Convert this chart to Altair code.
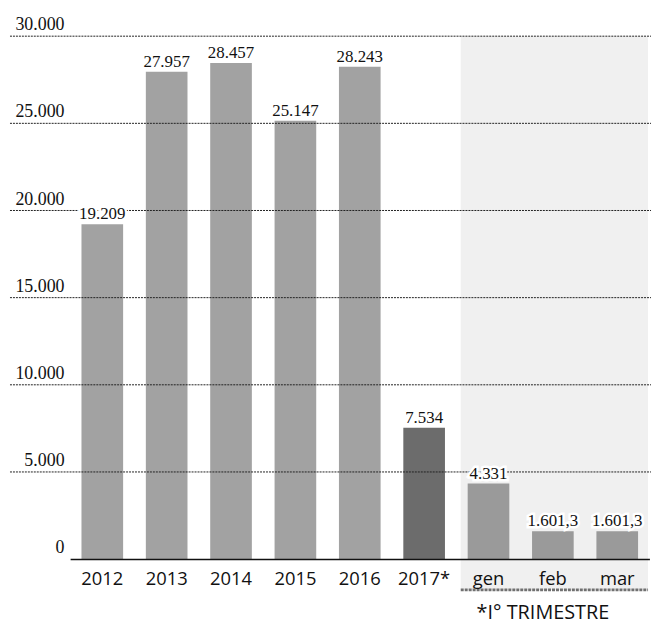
import altair as alt
import pandas as pd

categories = ["2012", "2013", "2014", "2015", "2016", "2017*", "gen", "feb", "mar"]
values = [19209, 27957, 28457, 25147, 28243, 7534, 4331, 1601.3, 1601.3]
value_labels = ["19.209", "27.957", "28.457", "25.147", "28.243", "7.534", "4.331", "1.601,3", "1.601,3"]
groups = ["anno", "anno", "anno", "anno", "anno", "parz", "mese", "mese", "mese"]
tick_values = [0, 5000, 10000, 15000, 20000, 25000, 30000]
tick_labels = ["0", "5.000", "10.000", "15.000", "20.000", "25.000", "30.000"]
quarter_months = ["gen"]
quarter_title = "*I\u00b0 TRIMESTRE"

W = 648
H = 553
SERIF = "Liberation Serif"
SANS = "Open Sans"

bars_df = pd.DataFrame({"c": categories, "v": values, "lab": value_labels, "g": groups})
ticks_df = pd.DataFrame({"t": tick_values, "lab": tick_labels})
shade_df = pd.DataFrame({"c": quarter_months, "top": [30000]})
title_df = pd.DataFrame({"c": ["feb"], "lab": [quarter_title]})

xscale = alt.Scale(domain=categories, range=[62.6, 646.4], paddingInner=0.353, paddingOuter=0.1765)
yscale = alt.Scale(domain=[0, 31480], nice=False, zero=True)
xaxis = alt.Axis(labelAngle=0, labelFont=SANS, labelFontSize=18.5, labelColor="#111",
                 labelPadding=11, ticks=False, domainColor="#111", domainWidth=1.5,
                 grid=False, title=None)


def X(**kw):
    return alt.X("c:N", scale=xscale, axis=xaxis, title=None, **kw)


shade = alt.Chart(shade_df).mark_rect(color="#f0f0f0", xOffset=-7).encode(
    x=X(bandPosition=0),
    x2=alt.value(W - 3),
    y=alt.Y("top:Q", scale=yscale, axis=None),
    y2=alt.value(H + 31),
)

underline = alt.Chart(shade_df).mark_rule(color="#707070", strokeWidth=3, strokeDash=[3, 1], xOffset=-7).encode(
    x=X(bandPosition=0),
    x2=alt.value(W - 3),
    y=alt.value(H + 31),
)

bars = alt.Chart(bars_df).mark_bar().encode(
    x=X(),
    y=alt.Y("v:Q", scale=yscale, axis=None),
    color=alt.Color("g:N", scale=alt.Scale(domain=["anno", "parz", "mese"],
                                           range=["#a2a2a2", "#6c6c6c", "#9a9a9a"]), legend=None),
)

grid = alt.Chart(ticks_df).transform_filter("datum.t > 0").mark_rule(
    color="#222", strokeWidth=1, strokeDash=[2, 1]).encode(
    y=alt.Y("t:Q", scale=yscale, axis=None),
    x=alt.value(2),
    x2=alt.value(W),
)

ylabels = alt.Chart(ticks_df).mark_text(font=SERIF, fontSize=18, align="right",
                                        baseline="alphabetic", dy=-6, color="#111").encode(
    y=alt.Y("t:Q", scale=yscale, axis=None),
    x=alt.value(57),
    text="lab:N",
)

halo = alt.Chart(bars_df).mark_text(font=SERIF, fontSize=17, baseline="alphabetic", dy=-5,
                                    stroke="white", strokeWidth=5, color="white").encode(
    x=X(),
    y=alt.Y("v:Q", scale=yscale, axis=None),
    text="lab:N",
)

vlabels = alt.Chart(bars_df).mark_text(font=SERIF, fontSize=17, baseline="alphabetic", dy=-5,
                                       color="#111").encode(
    x=X(),
    y=alt.Y("v:Q", scale=yscale, axis=None),
    text="lab:N",
)

qtitle = alt.Chart(title_df).mark_text(font=SANS, fontSize=20, baseline="middle", dx=-10,
                                       color="#111").encode(
    x=X(),
    y=alt.value(H + 54),
    text="lab:N",
)

chart = alt.layer(shade, underline, bars, grid, ylabels, halo, vlabels, qtitle).properties(
    width=W, height=H, padding=0
).configure_view(stroke=None)

chart.save("out.html", embed_options={"renderer": "svg", "actions": False})
